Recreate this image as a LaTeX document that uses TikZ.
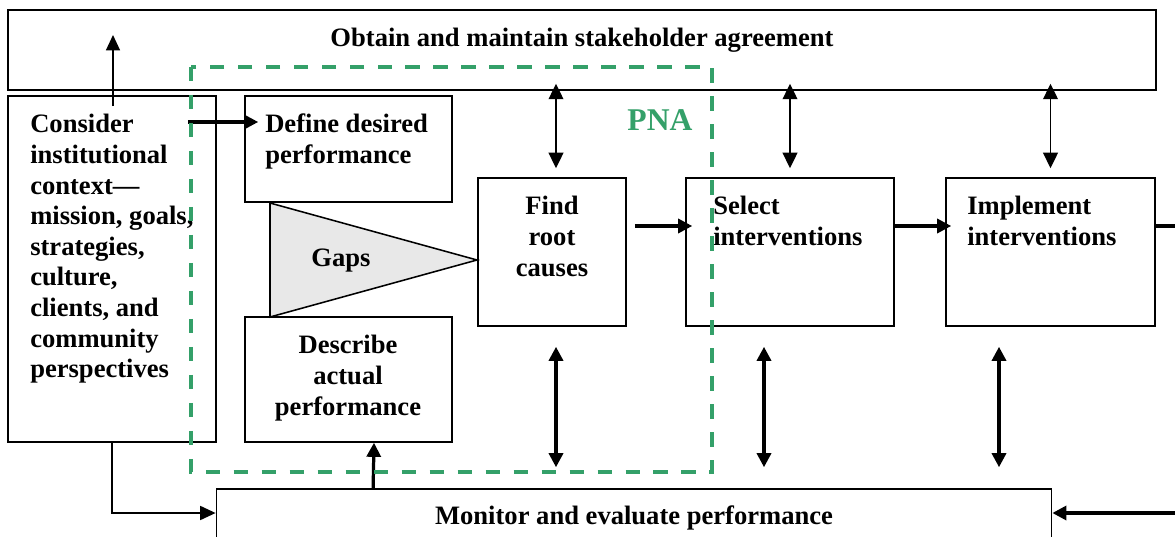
\documentclass[tikz,border=0pt]{standalone}
\usepackage{fontspec}
\setmainfont{Liberation Serif}
\usetikzlibrary{arrows.meta}
\usetikzlibrary{calc}
\definecolor{pnagreen}{RGB}{52,160,105}
\definecolor{gapgray}{RGB}{232,232,232}

\begin{document}
\begin{tikzpicture}[x=0.025cm, y=-0.025cm]
   \tikzset{Box/.style={draw, line width=1.1pt, inner sep=0pt, fill=white}}
   \tikzset{Txt/.style={font=\fontsize{18.9}{21.8}\selectfont\bfseries, inner sep=0pt}}
   \tikzset{ThinArrow/.style={line width=1.1pt, -{Triangle[length=11pt, width=10pt]}}}
   \tikzset{ThickArrow/.style={line width=2.3pt, -{Triangle[length=10pt, width=10pt]}}}
   \tikzset{ThinDbl/.style={line width=1.1pt, {Triangle[length=11pt, width=10.5pt]}-{Triangle[length=11pt, width=10.5pt]}}}
   \tikzset{ThickDbl/.style={line width=2.3pt, {Triangle[length=10pt, width=10pt]}-{Triangle[length=10pt, width=10pt]}}}
   \useasboundingbox (0,0) rectangle (1175,537);
   \clip (0,0) rectangle (1175,537);
   % boxes
   \node[Box, minimum width=28.7cm, minimum height=2cm] (stake) at (582,50) {};
   \node[Box, minimum width=5.2cm, minimum height=8.65cm] (consider) at (112,269) {};
   \node[Box, minimum width=5.175cm, minimum height=2.65cm] (define) at (348.5,149) {};
   \node[Box, minimum width=5.175cm, minimum height=3.125cm] (describe) at (348.5,379.5) {};
   \node[Box, minimum width=3.7cm, minimum height=3.7cm] (find) at (552,252) {};
   \node[Box, minimum width=5.2cm, minimum height=3.7cm] (select) at (790,252) {};
   \node[Box, minimum width=5.225cm, minimum height=3.7cm] (implement) at (1050.5,252) {};
   \node[Box, minimum width=20.875cm, minimum height=1.4cm] (monitor) at (634,517) {};
   \filldraw[fill=gapgray, line width=1.1pt] (270,203) -- (477,260) -- (270,317) -- cycle;
   % texts
   \node[Txt, anchor=base] (stakeText) at (582,46.5) {Obtain and maintain stakeholder agreement};
   \node[Txt, anchor=north west, align=left] (considerText) at (30,114)
      {Consider\\institutional\\context—\\mission, goals,\\strategies,\\culture,\\clients, and\\community\\perspectives};
   \node[Txt, anchor=north west, align=left] (defineText) at (265,114) {Define desired\\performance};
   \node[Txt, anchor=base] (gapsText) at (341,267) {Gaps};
   \node[Txt, anchor=north, align=center] (describeText) at (348,335) {Describe\\actual\\performance};
   \node[Txt, anchor=north, align=center] (findText) at (552,196) {Find\\root\\causes};
   \node[Txt, anchor=north west, align=left] (selectText) at (713,196) {Select\\interventions};
   \node[Txt, anchor=north west, align=left] (implementText) at (967,196) {Implement\\interventions};
   \node[Txt, anchor=base] (monitorText) at (634,524) {Monitor and evaluate performance};
   \coordinate (stakeIn) at (113,35);
   \coordinate (offRightTop) at (1185,226);
   \coordinate (offRightBot) at (1185,513);
   % connectors
   \draw[ThinArrow] ($(consider.north)+(1,11)$) -- (stakeIn);
   \draw[ThickArrow] ($(consider.east)+(-29,-147)$) -- ($(define.west)+(14,-27)$);
   \draw[ThickArrow] ($(find.east)+(8,-26)$) -- ($(select.west)+(7,-26)$);
   \draw[ThickArrow] ($(select.east)+(0,-26)$) -- ($(implement.west)+(6,-26)$);
   \draw[line width=2.3pt] ($(implement.east)+(0,-26)$) -- (offRightTop);
   \draw[ThickArrow] (offRightBot) -- (offRightBot -| monitor.east);
   \draw[ThinArrow] (consider.south) |- ($(monitor.west)+(0,-4)$);
   \draw[ThickArrow] ($(monitor.north west)+(157.5,0)$) -- ($(describe.south)+(25.5,0)$);
   \foreach \n/\dx in {find/4, select/0, implement/0}
      \draw[ThinDbl] ($(\n.north |- stake.south)+(\dx,-7)$) -- ($(\n.north)+(\dx,-9)$);
   \foreach \n/\dx in {find/4, select/-26, implement/-51.5}
      \draw[ThickDbl] ($(\n.south)+(\dx,20)$) -- ($(\n.south |- monitor.north)+(\dx,-21)$);
   % PNA frame
   \draw[pnagreen, line width=2.7pt, dash pattern=on 10.3pt off 9.6pt] (191,67) rectangle (712,472);
   \node[Txt, anchor=base, text=pnagreen, font=\fontsize{22.5}{26}\selectfont\bfseries] (pnaText) at (660,131) {PNA};
\end{tikzpicture}
\end{document}
